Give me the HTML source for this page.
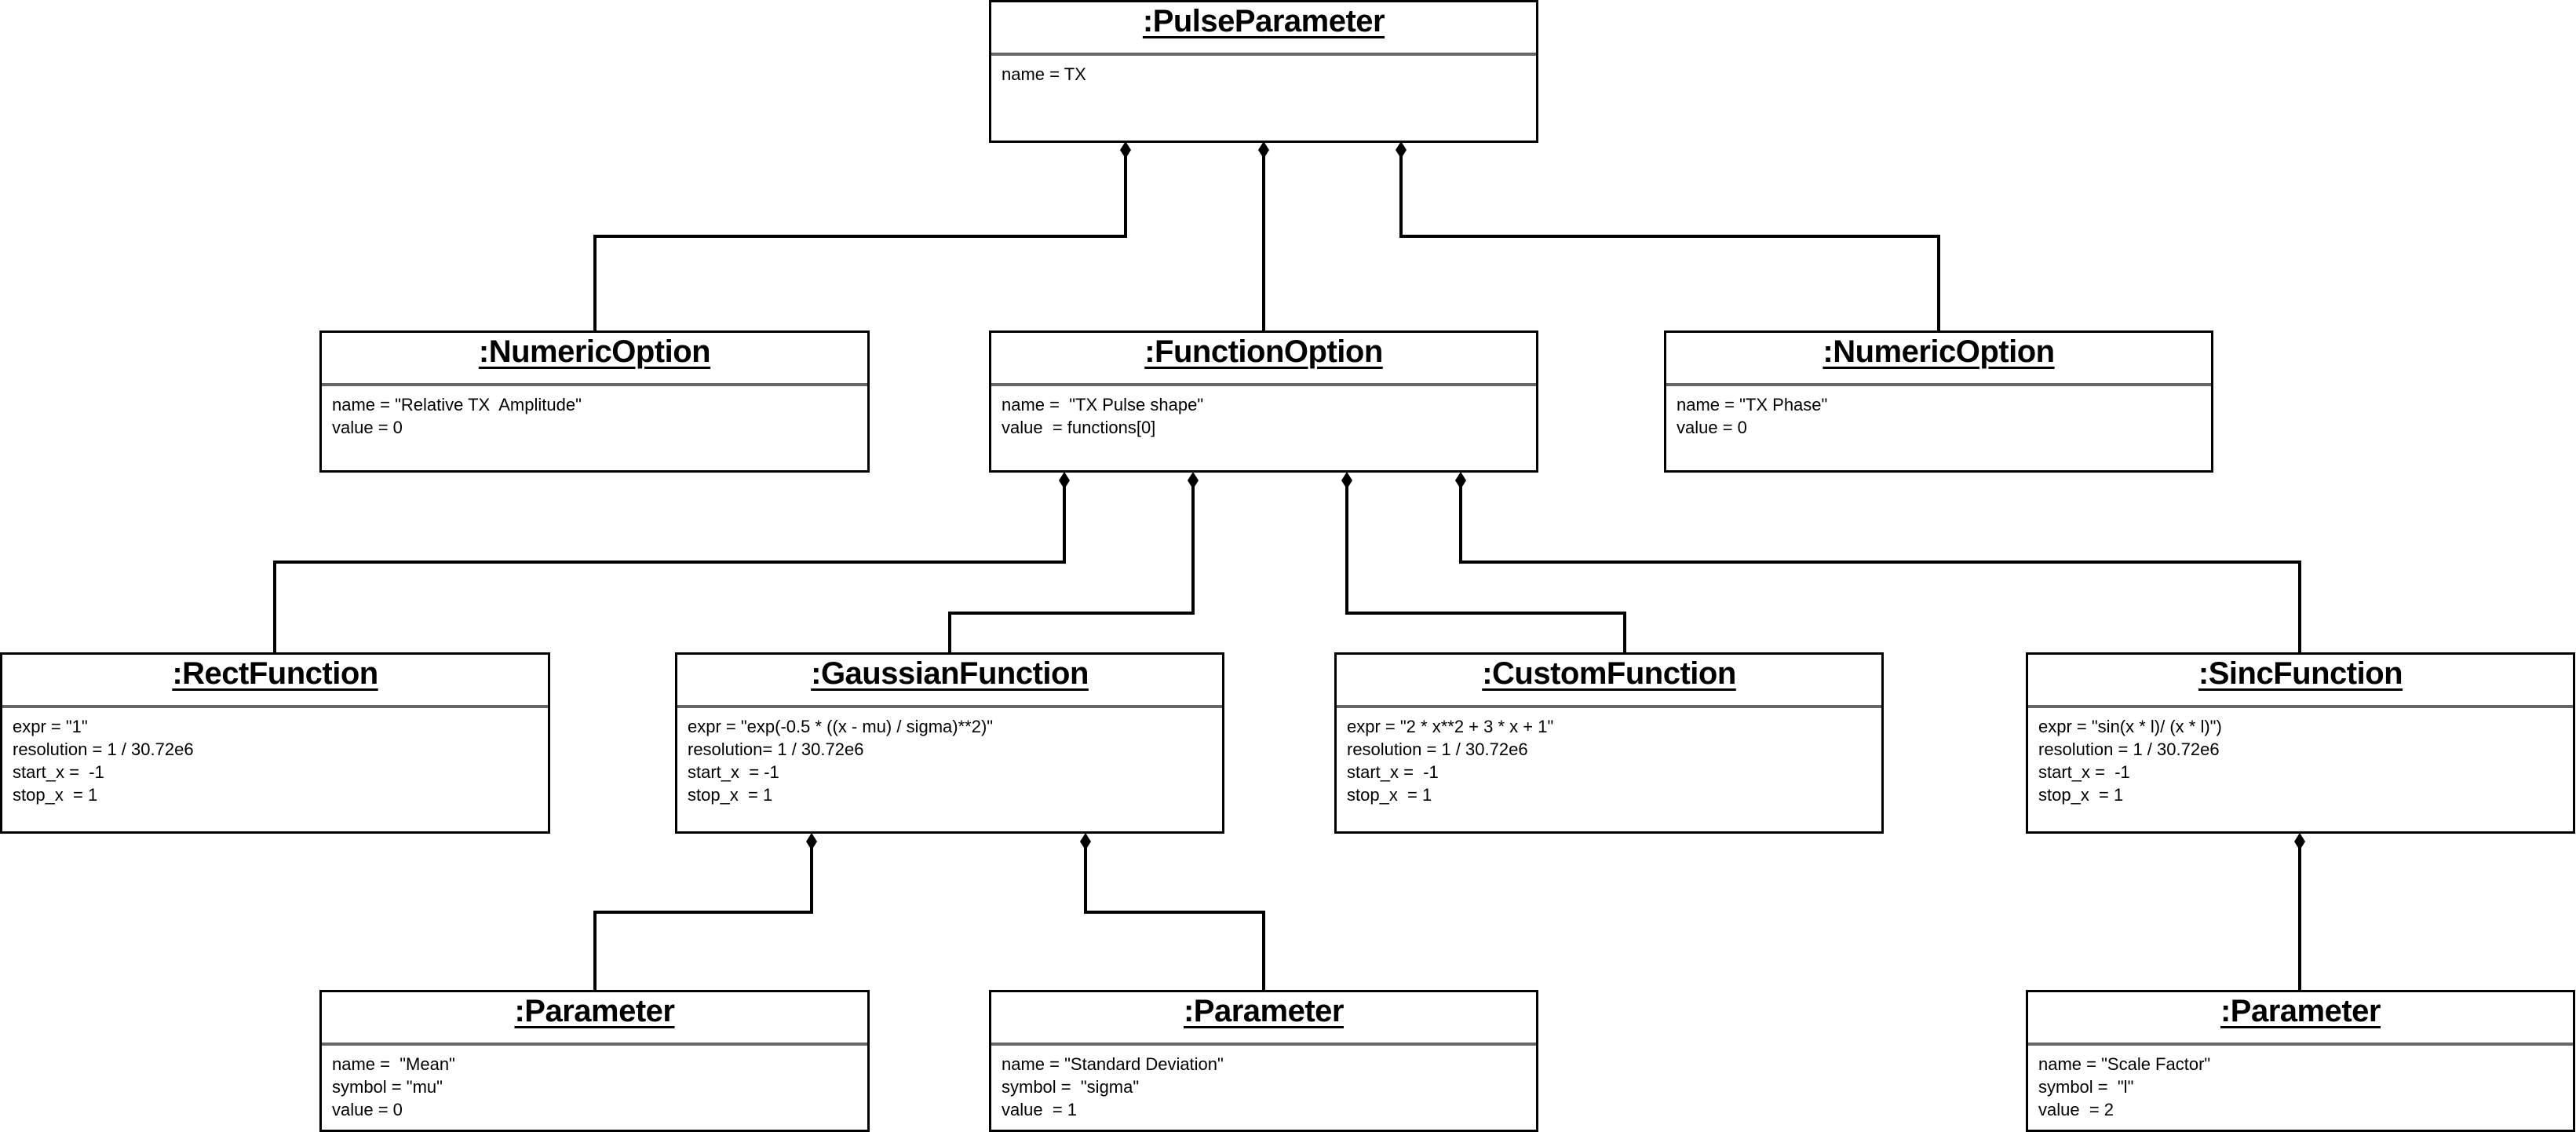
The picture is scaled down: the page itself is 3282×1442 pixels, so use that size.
<!DOCTYPE html>
<html><head><meta charset="utf-8"><style>
body{margin:0;width:3282px;height:1442px;background:#fff;position:relative;overflow:hidden;font-family:"Liberation Sans",Arial,sans-serif;}
.b{position:absolute;border:3px solid #000;box-sizing:border-box;background:#fff;}
.h{height:68px;box-sizing:border-box;border-bottom:4px solid #666;text-align:center;font-weight:bold;font-size:40px;line-height:48px;padding-top:0px;letter-spacing:-0.5px;}
.h span{text-decoration:underline;text-decoration-thickness:3px;text-underline-offset:6px;}
.a{padding:9px 0 0 13px;font-size:22px;line-height:29px;white-space:pre;}
svg{position:absolute;left:0;top:0;}
</style></head><body>
<svg width="3282" height="1442" viewBox="0 0 3282 1442">
<g fill="none" stroke="#000" stroke-width="4">
<polyline points="1434,190 1434,301 758,301 758,421"/>
<polyline points="1610,190 1610,421"/>
<polyline points="1785,190 1785,301 2470,301 2470,421"/>
<polyline points="1356,611 1356,716 350,716 350,831"/>
<polyline points="1520,611 1520,781 1210,781 1210,831"/>
<polyline points="1716,611 1716,781 2070,781 2070,831"/>
<polyline points="1861,611 1861,716 2930,716 2930,831"/>
<polyline points="1034,1071 1034,1162 758,1162 758,1261"/>
<polyline points="1383,1071 1383,1162 1610,1162 1610,1261"/>
<polyline points="2930,1071 2930,1261"/>
</g>
<g fill="#000">
<polygon points="1434,180 1441,191 1434,202 1427,191"/>
<polygon points="1610,180 1617,191 1610,202 1603,191"/>
<polygon points="1785,180 1792,191 1785,202 1778,191"/>
<polygon points="1356,601 1363,612 1356,623 1349,612"/>
<polygon points="1520,601 1527,612 1520,623 1513,612"/>
<polygon points="1716,601 1723,612 1716,623 1709,612"/>
<polygon points="1861,601 1868,612 1861,623 1854,612"/>
<polygon points="1034,1061 1041,1072 1034,1083 1027,1072"/>
<polygon points="1383,1061 1390,1072 1383,1083 1376,1072"/>
<polygon points="2930,1061 2937,1072 2930,1083 2923,1072"/>
</g>
</svg>

<div class="b" style="left:1260px;top:0;width:700px;height:182px"><div class="h"><span>:PulseParameter</span></div><div class="a">name = TX</div></div>

<div class="b" style="left:407px;top:421px;width:701px;height:181px"><div class="h"><span>:NumericOption</span></div><div class="a">name = "Relative TX  Amplitude"
value = 0</div></div>
<div class="b" style="left:1260px;top:421px;width:700px;height:181px"><div class="h"><span>:FunctionOption</span></div><div class="a">name =  "TX Pulse shape"
value  = functions[0]</div></div>
<div class="b" style="left:2120px;top:421px;width:700px;height:181px"><div class="h"><span>:NumericOption</span></div><div class="a">name = "TX Phase"
value = 0</div></div>

<div class="b" style="left:0;top:831px;width:701px;height:231px"><div class="h"><span>:RectFunction</span></div><div class="a">expr = "1"
resolution = 1 / 30.72e6
start_x =  -1
stop_x  = 1</div></div>
<div class="b" style="left:860px;top:831px;width:700px;height:231px"><div class="h"><span>:GaussianFunction</span></div><div class="a">expr = "exp(-0.5 * ((x - mu) / sigma)**2)"
resolution= 1 / 30.72e6
start_x  = -1
stop_x  = 1</div></div>
<div class="b" style="left:1700px;top:831px;width:700px;height:231px"><div class="h"><span>:CustomFunction</span></div><div class="a">expr = "2 * x**2 + 3 * x + 1"
resolution = 1 / 30.72e6
start_x =  -1
stop_x  = 1</div></div>
<div class="b" style="left:2581px;top:831px;width:700px;height:231px"><div class="h"><span>:SincFunction</span></div><div class="a">expr = "sin(x * l)/ (x * l)")
resolution = 1 / 30.72e6
start_x =  -1
stop_x  = 1</div></div>

<div class="b" style="left:407px;top:1261px;width:701px;height:181px"><div class="h"><span>:Parameter</span></div><div class="a">name =  "Mean"
symbol = "mu"
value = 0</div></div>
<div class="b" style="left:1260px;top:1261px;width:700px;height:181px"><div class="h"><span>:Parameter</span></div><div class="a">name = "Standard Deviation"
symbol =  "sigma"
value  = 1</div></div>
<div class="b" style="left:2581px;top:1261px;width:700px;height:181px"><div class="h"><span>:Parameter</span></div><div class="a">name = "Scale Factor"
symbol =  "l"
value  = 2</div></div>
</body></html>
